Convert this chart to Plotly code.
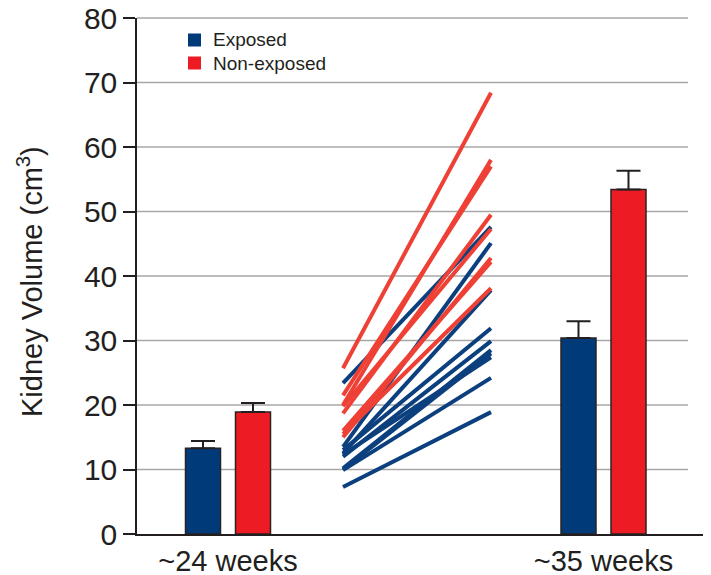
import plotly.graph_objects as go

# ---- data ----
groups = ["~24 weeks", "~35 weeks"]
series_names = ["Exposed", "Non-exposed"]
exposed_mean = [13.3, 30.4]
exposed_err = [1.1, 2.6]
nonexposed_mean = [18.9, 53.4]
nonexposed_err = [1.4, 2.9]

# individual subjects (24 weeks -> 35 weeks)
exposed_24 = [23.4, 13.5, 12.5, 13.0, 12.0, 10.2, 10.0, 12.3, 9.9, 7.3]
exposed_35 = [47.6, 45.1, 37.8, 31.9, 29.9, 28.5, 28.0, 27.4, 24.2, 18.9]
nonexp_24 = [25.7, 21.5, 20.0, 18.7, 19.8, 15.0, 16.0, 15.5]
nonexp_35 = [68.4, 57.0, 58.0, 49.5, 47.3, 42.8, 42.2, 38.1]

yticks = [0, 10, 20, 30, 40, 50, 60, 70, 80]

# ---- styling / positions (x axis in plot-pixel units) ----
BLUE = "#003a78"
RED = "#ed1c24"
LBLUE = "#0b3f7e"
LRED = "#ee4035"
TXT = "#231f20"
group_x = [91, 466.5]
off = 25
bw = 35
line_x = [206, 354]
FONT = "Liberation Sans, Arial, Helvetica, sans-serif"
PAGE = 8  # page body margin offset
W, H = 711, 575
L, T = 129, 10
PW, PH = 566, 516
R, B = W - L - PW, H - T - PH
GRID_END = 551

fig = go.Figure()

fig.add_trace(go.Bar(
    x=[g - off for g in group_x], y=exposed_mean, width=bw, name=series_names[0],
    marker=dict(color=BLUE, line=dict(color="#2b2222", width=1.5)), showlegend=False,
    error_y=dict(type="data", array=exposed_err, arrayminus=[0, 0], symmetric=False,
                 color=TXT, thickness=2, width=12),
))
fig.add_trace(go.Bar(
    x=[g + off for g in group_x], y=nonexposed_mean, width=bw, name=series_names[1],
    marker=dict(color=RED, line=dict(color="#2b2222", width=1.5)), showlegend=False,
    error_y=dict(type="data", array=nonexposed_err, arrayminus=[0, 0], symmetric=False,
                 color=TXT, thickness=2, width=12),
))

for a, b in zip(exposed_24, exposed_35):
    fig.add_trace(go.Scatter(x=line_x, y=[a, b], mode="lines", showlegend=False,
                             line=dict(color=LBLUE, width=4), hoverinfo="skip"))
for a, b in zip(nonexp_24, nonexp_35):
    fig.add_trace(go.Scatter(x=line_x, y=[a, b], mode="lines", showlegend=False,
                             line=dict(color=LRED, width=4), hoverinfo="skip"))

# gridlines (stop short of axis end like the original)
for t in yticks[1:-1]:
    fig.add_shape(type="line", xref="x", yref="y", x0=0, x1=GRID_END, y0=t, y1=t,
                  line=dict(color="#a7a7a7", width=1.5), layer="below")
# top gridline sits on the plot edge -> paper coords so it is not clipped
fig.add_shape(type="line", xref="paper", yref="paper", x0=0, x1=GRID_END / PW, y0=1, y1=1,
              line=dict(color="#a7a7a7", width=1.5), layer="below")

# helpers: page pixel -> paper coords
def px_x(p):
    return (p - PAGE - L) / PW

def px_y(p):
    return 1 - (p - PAGE - T) / PH

for i, (name, col) in enumerate(zip(series_names, [BLUE, RED])):
    yc = 40 + 23 * i
    fig.add_shape(type="rect", xref="paper", yref="paper",
                  x0=px_x(188), x1=px_x(201), y0=px_y(yc + 6.5), y1=px_y(yc - 6.5),
                  fillcolor=col, line=dict(width=0))
    fig.add_annotation(text=name, xref="paper", yref="paper", x=px_x(211), y=px_y(yc),
                       xanchor="left", yanchor="middle", showarrow=False,
                       font=dict(size=19, color=TXT, family=FONT))

fig.add_annotation(text="Kidney Volume (cm<sup>3</sup>)", xref="paper", yref="paper",
                   x=px_x(30), y=px_y(282), textangle=-90, showarrow=False,
                   font=dict(size=29, color=TXT, family=FONT), xanchor="center", yanchor="middle")

fig.update_layout(
    width=W, height=H,
    margin=dict(l=L, r=R, t=T, b=B, autoexpand=False),
    paper_bgcolor="white", plot_bgcolor="white",
    barmode="overlay",
    showlegend=False,
    font=dict(family=FONT, color=TXT),
)
fig.update_xaxes(range=[0, 566], tickvals=group_x, ticktext=groups, ticks="",
                 showgrid=False, zeroline=False, showline=True, linecolor="#231f20",
                 linewidth=1.5, automargin=False, ticklabeloverflow="allow",
                 tickfont=dict(size=29, color=TXT, family=FONT))
fig.update_yaxes(range=[0, 80], tickvals=yticks, ticks="outside", ticklen=12,
                 tickwidth=1.5, tickcolor="#231f20", showgrid=False, zeroline=False,
                 showline=True, linecolor="#231f20", linewidth=1.5, automargin=False,
                 ticklabeloverflow="allow",
                 tickfont=dict(size=30, color=TXT, family=FONT))

fig.write_html("out.html")
